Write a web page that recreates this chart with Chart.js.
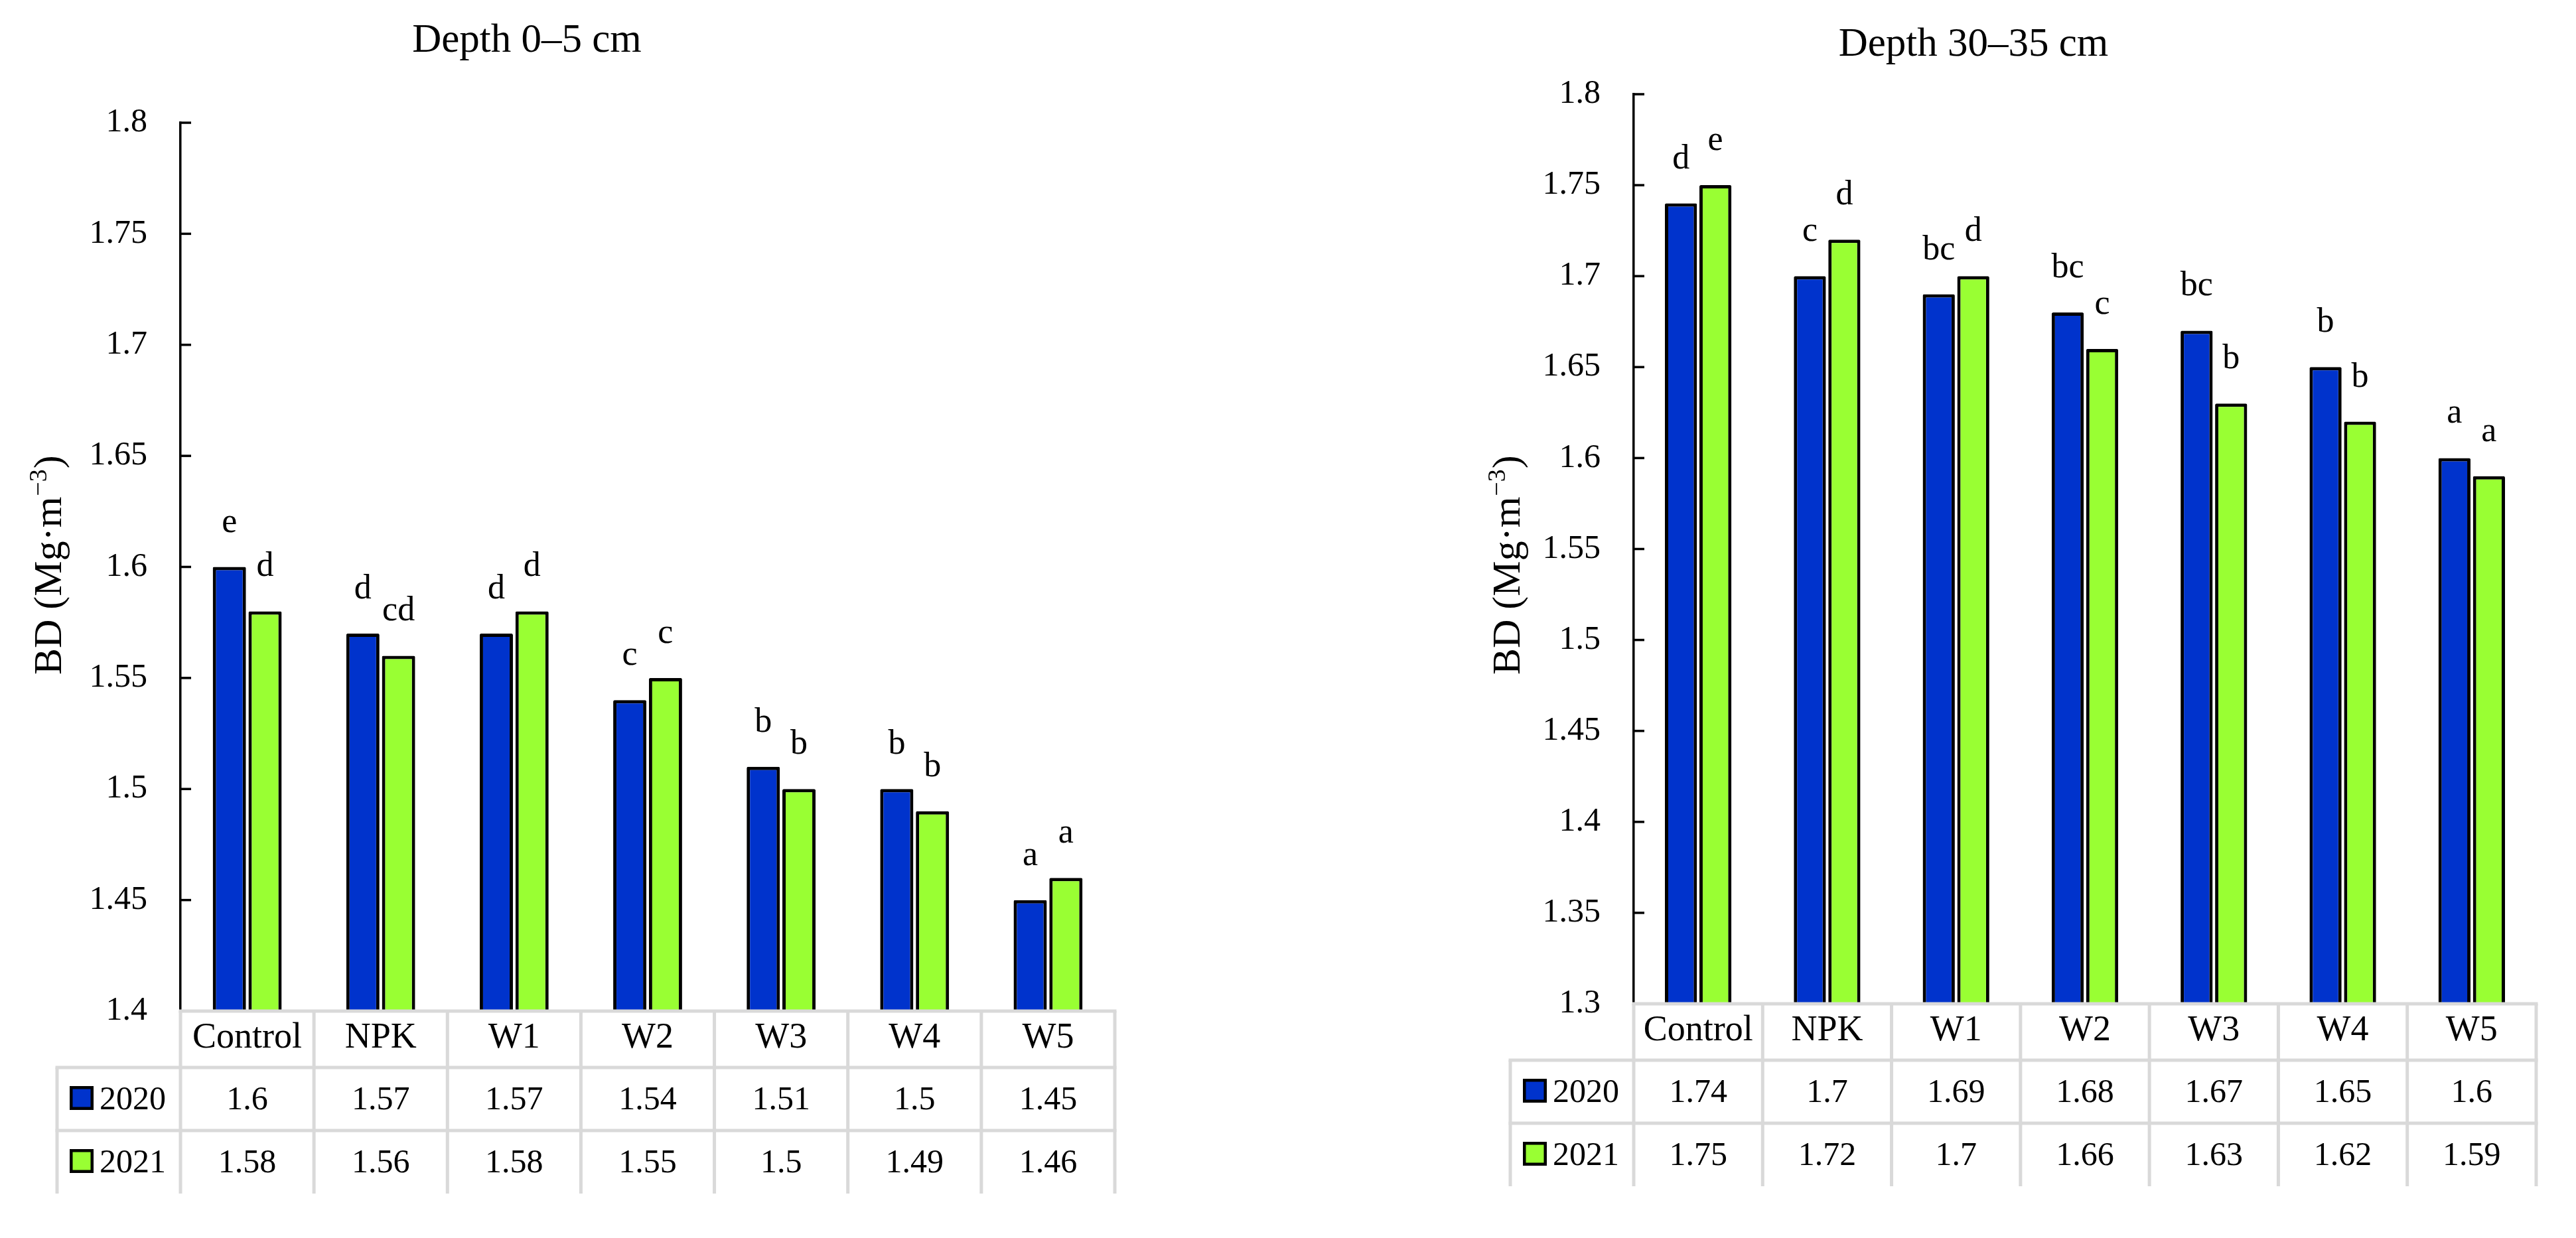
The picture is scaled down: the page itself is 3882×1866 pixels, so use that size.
<!DOCTYPE html>
<html>
<head>
<meta charset="utf-8">
<script src="https://cdn.jsdelivr.net/npm/chart.js@4/dist/chart.umd.min.js"></script>
<style>
  html, body { margin: 0; padding: 0; background: #fff; overflow: hidden; }
  #wrap { position: relative; width: 3882px; height: 1866px; background: #fff; }
  .panel { position: absolute; top: 0; width: 1941px; height: 1866px; }
  #p1 { left: 0; }
  #p2 { left: 1941px; }
</style>
</head>
<body>
<div id="wrap">
  <div class="panel" id="p1"><canvas id="c1" width="1941" height="1866"></canvas></div>
  <div class="panel" id="p2"><canvas id="c2" width="1941" height="1866"></canvas></div>
</div>
<script>
// ---------------- DATA ----------------
const categories = ['Control', 'NPK', 'W1', 'W2', 'W3', 'W4', 'W5'];
const seriesNames = ['2020', '2021'];

const bd0_5_2020 = [1.6, 1.57, 1.57, 1.54, 1.51, 1.5, 1.45];
const bd0_5_2021 = [1.58, 1.56, 1.58, 1.55, 1.5, 1.49, 1.46];
const bd30_35_2020 = [1.74, 1.7, 1.69, 1.68, 1.67, 1.65, 1.6];
const bd30_35_2021 = [1.75, 1.72, 1.7, 1.66, 1.63, 1.62, 1.59];

const letters0_5_2020 = ['e', 'd', 'd', 'c', 'b', 'b', 'a'];
const letters0_5_2021 = ['d', 'cd', 'd', 'c', 'b', 'b', 'a'];
const letters30_35_2020 = ['d', 'c', 'bc', 'bc', 'bc', 'b', 'a'];
const letters30_35_2021 = ['e', 'd', 'd', 'c', 'b', 'b', 'a'];

const yTicks0_5 = [1.4, 1.45, 1.5, 1.55, 1.6, 1.65, 1.7, 1.75, 1.8];
const yTicks30_35 = [1.3, 1.35, 1.4, 1.45, 1.5, 1.55, 1.6, 1.65, 1.7, 1.75, 1.8];

const title0_5 = 'Depth 0–5 cm';
const title30_35 = 'Depth 30–35 cm';

// ---------------- STYLE ----------------
const FONT = "'Liberation Serif', 'Times New Roman', serif";
const BLUE = '#0033CC';
const GREEN = '#99FF33';
const GRID_GRAY = '#D9D9D9';

function line(ctx, x1, y1, x2, y2) {
  ctx.beginPath(); ctx.moveTo(x1, y1); ctx.lineTo(x2, y2); ctx.stroke();
}

const decorPlugin = {
  id: 'decor',
  afterDatasetsDraw(chart, args, o) {
    const { ctx, chartArea: { left, right, bottom } } = chart;
    const xs = chart.scales.x, ys = chart.scales.y;
    const n = chart.data.labels.length;
    const colW = (right - left) / n;

    ctx.save();
    // letters above bars
    ctx.fillStyle = '#000';
    ctx.font = `52px ${FONT}`;
    ctx.textAlign = 'center';
    ctx.textBaseline = 'alphabetic';
    chart.data.datasets.forEach((ds, d) => {
      const meta = chart.getDatasetMeta(d);
      meta.data.forEach((bar, i) => {
        ctx.fillText(o.letters[d][i], bar.x, bar.y - 53);
      });
    });

    // inner tick marks on y axis
    ctx.strokeStyle = '#000';
    ctx.lineWidth = 3.5;
    ys.ticks.forEach(t => {
      if (t.value === ys.min) return;
      const py = ys.getPixelForValue(t.value);
      line(ctx, left, py, left + 16, py);
    });

    // data table
    const legendLeft = left - o.legendW;
    const y0 = bottom, y1 = bottom + o.headerH, y2 = y1 + o.rowH, y3 = y2 + o.rowH;
    ctx.strokeStyle = GRID_GRAY;
    ctx.lineWidth = 5;
    line(ctx, left - 2.5, y0, right + 2.5, y0);
    line(ctx, legendLeft - 2.5, y1, right + 2.5, y1);
    line(ctx, legendLeft - 2.5, y2, right + 2.5, y2);
    for (let i = 0; i <= n; i++) {
      const xx = left + i * colW;
      line(ctx, xx, y0, xx, y3);
    }
    line(ctx, legendLeft, y1, legendLeft, y3);

    ctx.font = `50px ${FONT}`;
    chart.data.datasets.forEach((ds, r) => {
      const rowTop = y1 + r * o.rowH;
      ctx.fillStyle = '#000';
      ctx.textAlign = 'center';
      ds.data.forEach((v, i) => {
        ctx.fillText(String(v), xs.getPixelForValue(i), rowTop + 63);
      });
      // legend key
      ctx.fillStyle = ds.backgroundColor;
      ctx.fillRect(legendLeft + 19, rowTop + 28, 36, 36);
      ctx.strokeStyle = '#000';
      ctx.lineWidth = 4.5;
      ctx.strokeRect(legendLeft + 21.25, rowTop + 30.25, 31.5, 31.5);
      ctx.fillStyle = '#000';
      ctx.textAlign = 'left';
      ctx.fillText(ds.label, legendLeft + 64, rowTop + 63);
    });

    // chart title
    ctx.font = `61px ${FONT}`;
    ctx.textAlign = 'center';
    ctx.fillText(o.title, o.titleX, o.titleY);

    // y-axis title with superscript
    ctx.translate(o.yTitleX, o.yTitleY);
    ctx.rotate(-Math.PI / 2);
    ctx.textAlign = 'left';
    const main = 'BD (Mg·m';
    ctx.font = `60px ${FONT}`;
    ctx.fillText(main, 0, 0);
    let w = ctx.measureText(main).width;
    ctx.font = `38px ${FONT}`;
    const sup = '−3';
    ctx.fillText(sup, w + 1, -22);
    w += ctx.measureText(sup).width + 2;
    ctx.font = `60px ${FONT}`;
    ctx.fillText(')', w, 0);
    ctx.restore();
  }
};

function makeChart(id, d2020, d2021, letters2020, letters2021, yTicks, L) {
  return new Chart(document.getElementById(id), {
    type: 'bar',
    data: {
      labels: categories,
      datasets: [
        { label: seriesNames[0], data: d2020, backgroundColor: BLUE, borderColor: '#000', borderWidth: 5, borderRadius: 2 },
        { label: seriesNames[1], data: d2021, backgroundColor: GREEN, borderColor: '#000', borderWidth: 5, borderRadius: 2 }
      ]
    },
    options: {
      responsive: false,
      animation: false,
      devicePixelRatio: 1,
      layout: { padding: { left: 0, top: L.top, right: 1941 - L.right, bottom: 0 } },
      datasets: { bar: { categoryPercentage: 0.535, barPercentage: 0.93 } },
      plugins: {
        legend: { display: false },
        title: { display: false },
        tooltip: { enabled: false },
        decor: {
          letters: [letters2020, letters2021],
          legendW: 186, headerH: 85, rowH: 95,
          title: L.title, titleX: L.titleX, titleY: L.titleY,
          yTitleX: L.yTitleX, yTitleY: 1017
        }
      },
      scales: {
        x: {
          grid: { display: false, drawTicks: false },
          border: { display: false },
          ticks: { font: { family: FONT, size: 54 }, color: '#000', padding: 8, maxRotation: 0, autoSkip: false },
          afterFit: s => { s.height = 1866 - L.bottom; }
        },
        y: {
          min: yTicks[0],
          max: yTicks[yTicks.length - 1],
          afterBuildTicks: s => { s.ticks = yTicks.map(v => ({ value: v })); },
          grid: { display: false, drawTicks: false },
          border: { display: true, color: '#000', width: 3.5 },
          ticks: { font: { family: FONT, size: 50 }, color: '#000', padding: 50, callback: v => String(v) },
          afterFit: s => { s.width = L.left; }
        }
      }
    },
    plugins: [decorPlugin]
  });
}

makeChart('c1', bd0_5_2020, bd0_5_2021, letters0_5_2020, letters0_5_2021, yTicks0_5,
  { left: 272, right: 1680, top: 185, bottom: 1524, title: title0_5, titleX: 794, titleY: 78, yTitleX: 92 });
makeChart('c2', bd30_35_2020, bd30_35_2021, letters30_35_2020, letters30_35_2021, yTicks30_35,
  { left: 521, right: 1881, top: 142, bottom: 1513, title: title30_35, titleX: 1033, titleY: 84, yTitleX: 349 });
</script>
</body>
</html>
